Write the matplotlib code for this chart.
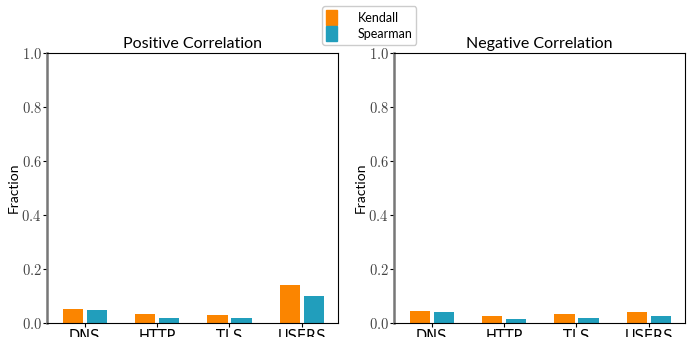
import matplotlib.pyplot as plt
import numpy as np
from matplotlib.patches import Patch

plt.rcParams['mathtext.fontset'] = 'cm'
plt.rcParams['font.family'] = ['Lato', 'DejaVu Sans']

categories = ["DNS", "HTTP", "TLS", "USERS"]
pos_kendall = [0.052, 0.033, 0.030, 0.141]
pos_spearman = [0.048, 0.019, 0.019, 0.100]
neg_kendall = [0.044, 0.026, 0.033, 0.041]
neg_spearman = [0.041, 0.015, 0.019, 0.026]
yticks = [0.0, 0.2, 0.4, 0.6, 0.8, 1.0]

c_kendall = "#FB8500"
c_spearman = "#219EBC"

fig = plt.figure(figsize=(6.94, 3.37), dpi=100)
ax1 = fig.add_axes([0.068, 0.0415, 0.419, 0.801])
ax2 = fig.add_axes([0.568, 0.0415, 0.419, 0.801])

x = np.arange(len(categories))
w = 0.28
panels = [(ax1, "Positive Correlation", pos_kendall, pos_spearman),
          (ax2, "Negative Correlation", neg_kendall, neg_spearman)]
for ax, title, kv, sv in panels:
    ax.bar(x - 0.165, kv, w, color=c_kendall)
    ax.bar(x + 0.165, sv, w, color=c_spearman)
    ax.set_xlim(-0.52, 3.5)
    ax.set_ylim(0, 1)
    ax.set_xticks(x)
    ax.set_xticklabels(categories, fontsize=10.5, family='DejaVu Sans')
    ax.set_yticks(yticks)
    ax.set_yticklabels([r"$%.1f$" % t for t in yticks], fontsize=10.5, color="#444444")
    ax.set_title(title, fontsize=11.5, pad=4)
    ax.set_ylabel("Fraction", fontsize=10, labelpad=1)
    ax.spines['left'].set_color("#777777")
    ax.spines['left'].set_linewidth(1.8)
    ax.tick_params(axis='y', length=3, pad=1)
    ax.tick_params(axis='x', length=3, pad=1)

handles = [Patch(color=c_kendall, label="Kendall"), Patch(color=c_spearman, label="Spearman")]
fig.legend(handles=handles, loc="upper center", bbox_to_anchor=(0.532, 1.0),
           fontsize=9, handlelength=0.9, handleheight=1.5, handletextpad=1.6,
           labelspacing=0.05, borderpad=0.3, framealpha=1)

fig.savefig("out.png", dpi=100)
